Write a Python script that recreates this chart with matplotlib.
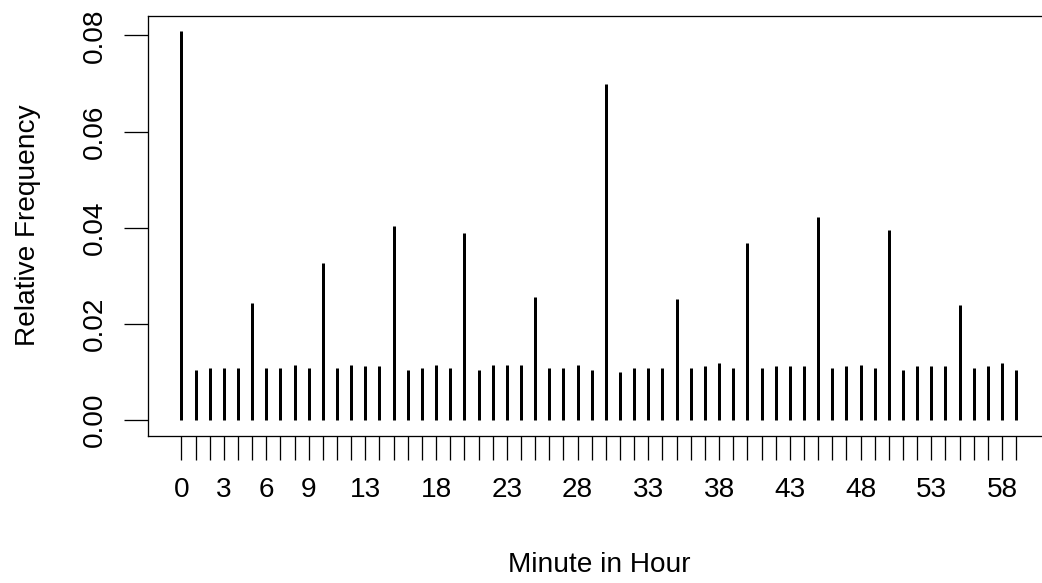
import numpy as np
import matplotlib
matplotlib.use('Agg')
import matplotlib.pyplot as plt

plt.rcParams['font.family'] = ['Liberation Sans', 'DejaVu Sans']

# relative frequency of each minute in the hour
minutes = np.arange(60)
rel_freq = [
    0.0809, 0.0104, 0.0108, 0.0108, 0.0108, 0.0244, 0.0108, 0.0108, 0.0115, 0.0108,
    0.0326, 0.0108, 0.0115, 0.0112, 0.0112, 0.0403, 0.0104, 0.0108, 0.0115, 0.0108,
    0.0388, 0.0104, 0.0115, 0.0115, 0.0115, 0.0256, 0.0108, 0.0108, 0.0115, 0.0104,
    0.0699, 0.0100, 0.0108, 0.0108, 0.0108, 0.0252, 0.0108, 0.0112, 0.0119, 0.0108,
    0.0369, 0.0108, 0.0112, 0.0112, 0.0112, 0.0423, 0.0108, 0.0112, 0.0115, 0.0108,
    0.0396, 0.0104, 0.0112, 0.0112, 0.0112, 0.0240, 0.0108, 0.0112, 0.0119, 0.0104,
]
# R drops overlapping labels, only these survive
shown_labels = [0, 3, 6, 9, 13, 18, 23, 28, 33, 38, 43, 48, 53, 58]
y_ticks = [0.00, 0.02, 0.04, 0.06, 0.08]

px = 72 / 100.0  # points per pixel at dpi 100
fs = 28 * px

fig = plt.figure(figsize=(10.42, 5.83), dpi=100)
ax = fig.add_axes([148 / 1042, 1 - 435.6 / 583, 901.6 / 1042, 420.1 / 583])

ax.vlines(minutes, 0, rel_freq, colors='black', linewidth=3 * px, capstyle='butt')

# R style 4% padding
ymax = max(rel_freq)
ax.set_xlim(-0.04 * 59, 59 * 1.04)
ax.set_ylim(-0.04 * ymax, ymax * 1.04)

ax.set_xticks(minutes)
ax.set_xticklabels([str(m) if m in shown_labels else '' for m in minutes])
ax.set_yticks(y_ticks)
ax.set_yticklabels(['%.2f' % v for v in y_ticks], rotation=90, va='center')

ax.tick_params(axis='both', direction='out', length=17, width=1.3 * px,
               labelsize=fs, colors='black')
ax.tick_params(axis='x', pad=13)
ax.tick_params(axis='y', pad=12)

for s in ax.spines.values():
    s.set_linewidth(1.3 * px)
    s.set_color('black')

ax.set_xlabel('Minute in Hour', fontsize=fs, labelpad=35)
ax.set_ylabel('Relative Frequency', fontsize=fs, labelpad=29)

fig.savefig('out.png', dpi=100)
